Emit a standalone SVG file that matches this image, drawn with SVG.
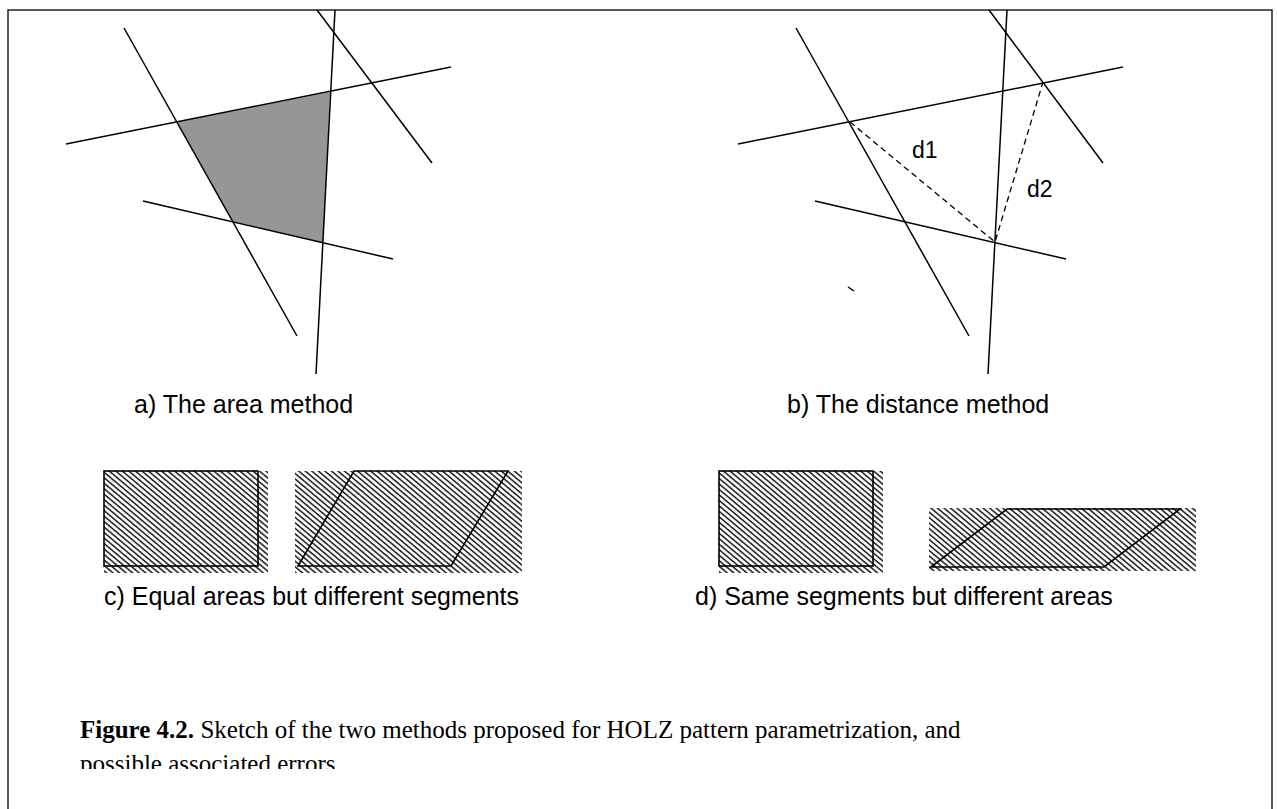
<svg xmlns="http://www.w3.org/2000/svg" width="1277" height="809" viewBox="0 0 1277 809">
<style>
.ln{stroke:#000;stroke-width:1.5;fill:none;stroke-linecap:butt}
.dash{stroke:#000;stroke-width:1.3;fill:none;stroke-dasharray:6,4}
.lab{font-family:"Liberation Sans",Arial,sans-serif;font-size:25px;fill:#000}
.dl{font-family:"Liberation Sans",Arial,sans-serif;font-size:23px;fill:#000}
.cap{font-family:"Liberation Serif","Times New Roman",serif;font-size:25px;fill:#000}
.hatch{fill:url(#hatch)}
.out{stroke:#000;stroke-width:1.6;fill:none}
</style>
<defs>
<pattern id="hatch" width="8" height="4.2" patternUnits="userSpaceOnUse" patternTransform="rotate(40)">
<rect x="0" y="0" width="8" height="1.7" fill="#333"/>
</pattern>
<clipPath id="capclip"><rect x="0" y="0" width="1277" height="769"/></clipPath>
</defs>
<rect x="8" y="10" width="1264" height="830" fill="#fff" stroke="#222" stroke-width="1.5"/>
<g id="panel-a">
<polygon points="177,122 330,92 323,243 232,221" fill="#969696"/>
<line class="ln" x1="124" y1="28" x2="297" y2="336"/>
<line class="ln" x1="335" y1="10" x2="316" y2="374"/>
<line class="ln" x1="317" y1="10" x2="432" y2="163"/>
<line class="ln" x1="66" y1="144" x2="451" y2="67"/>
<line class="ln" x1="143" y1="201" x2="393" y2="259"/>
<text class="lab" x="134" y="413">a) The area method</text>
</g>
<g id="panel-b">
<line class="ln" x1="796" y1="28" x2="969" y2="336"/>
<line class="ln" x1="1007" y1="10" x2="988" y2="374"/>
<line class="ln" x1="989" y1="10" x2="1103" y2="163"/>
<line class="ln" x1="738" y1="144" x2="1123" y2="67"/>
<line class="ln" x1="815" y1="201" x2="1066" y2="259"/>
<line class="ln" x1="848" y1="287" x2="854" y2="291"/>
<polyline class="dash" points="850,122 995,242 1043,82"/>
<text class="dl" x="912" y="158">d1</text>
<text class="dl" x="1027" y="197">d2</text>
<text class="lab" x="787" y="413">b) The distance method</text>
</g>
<g id="panel-c">
<rect class="hatch" x="104" y="471" width="164" height="102"/>
<rect class="out" x="104" y="471" width="154" height="95"/>
<rect class="hatch" x="295" y="471" width="227" height="102"/>
<polygon class="out" points="298,566 354,471 508,471 451,566"/>
<text class="lab" x="104" y="605">c) Equal areas but different segments</text>
</g>
<g id="panel-d">
<rect class="hatch" x="719" y="471" width="164" height="102"/>
<rect class="out" x="719" y="471" width="154" height="95"/>
<rect class="hatch" x="929" y="508" width="267" height="63"/>
<polygon class="out" points="931,567 1007,509 1180,509 1104,567"/>
<text class="lab" x="695" y="605">d) Same segments but different areas</text>
</g>
<g id="caption" clip-path="url(#capclip)">
<text class="cap" x="80" y="738"><tspan font-weight="bold">Figure 4.2.</tspan> Sketch of the two methods proposed for HOLZ pattern parametrization, and</text>
<text class="cap" x="80" y="772">possible associated errors.</text>
</g>
</svg>
